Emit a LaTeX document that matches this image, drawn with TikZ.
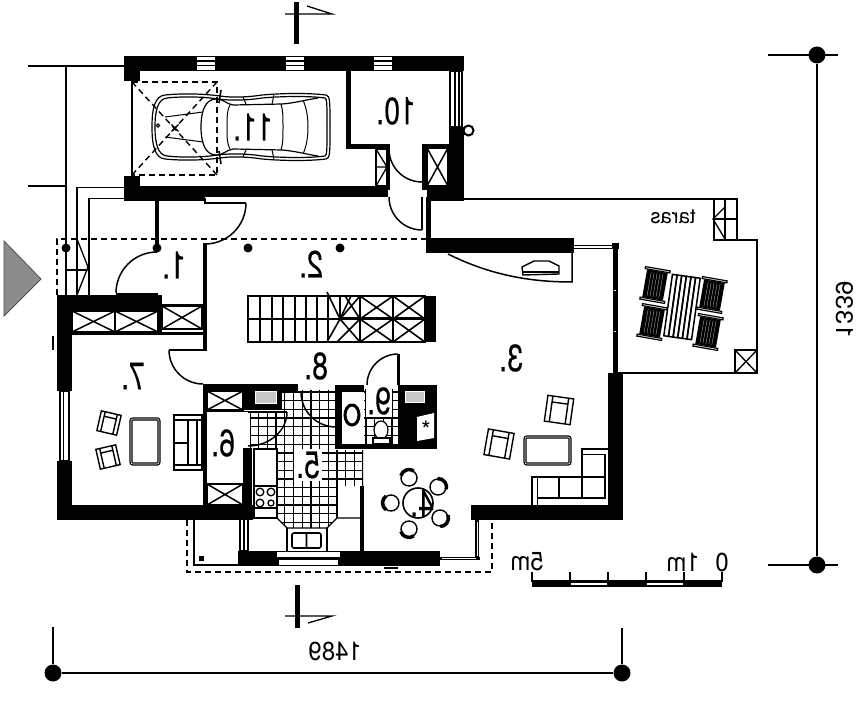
\documentclass[tikz,border=0pt]{standalone}
\usepackage{fontspec}
\setmainfont{TeX Gyre Heros}
\newfontfamily\labelfont[FakeBold=0.4]{TeX Gyre Heros}
\usetikzlibrary{calc}

\tikzset{
  wall/.style={fill=black,draw=none},
  thinline/.style={draw=black,line width=1.3pt},
  leaf/.style={draw=black,line width=2.8pt},
  swing/.style={draw=black,line width=1.5pt},
  dashline/.style={draw=black,line width=1.4pt,dash pattern=on 6pt off 4pt},
  room/.style={font=\labelfont\fontsize{38}{38}\selectfont,xscale=-.75,inner sep=0pt},
  small/.style={font=\fontsize{26}{26}\selectfont,xscale=-.92,inner sep=0pt},
  dimdot/.style={circle,fill=black,inner sep=0pt,minimum size=17pt},
  postdot/.style={circle,fill=black,inner sep=0pt,minimum size=9pt},
}

% hatch box with a cross
\newcommand{\crossbox}[4]{
  \draw[line width=1.5pt,fill=white] (#1,#2) rectangle (#3,#4);
  \draw[line width=1.5pt] (#1,#2) -- (#3,#4) (#1,#4) -- (#3,#2);
}
% armchair
\newcommand{\armchair}[4]{
\begin{scope}[shift={(#1,#2)},rotate=#3,scale=#4]
  \draw[line width=1.4pt,fill=white] (-13,-13) rectangle (13,13);
  \draw[line width=1.4pt] (-8,-13) -- (-8,13) (8,-13) -- (8,13) (-8,-7) -- (8,-7);
\end{scope}
}
% dining chair
\newcommand{\dinechair}[3]{
  \draw[line width=1.4pt,fill=white] (#1,#2) circle (8);
  \draw[line width=3.5pt] ($(#1,#2)+(#3-55:8.5)$) arc (#3-55:#3+55:8.5);
}
% deck chair
\newcommand{\deckchair}[3]{
\begin{scope}[shift={(#1,#2)},rotate=#3]
  \fill[black] (-10.5,-14) rectangle (10.5,14);
  \foreach \s in {-6,-3,0,3,6}
    \draw[white,line width=.2pt] (\s,-12) -- (\s,12);
  \draw[line width=1.2pt,fill=white] (-12.5,-16.5) rectangle (12.5,-14.5);
  \draw[line width=1.2pt,fill=white] (-12.5,14.5) rectangle (12.5,16.5);
\end{scope}
}
% one side of the car
\newcommand{\carhalf}{
  \draw[line width=1.2pt] (152,127) .. controls (152,108) and (155,96) .. (165,95)
    .. controls (185,93) and (205,94) .. (220,96) .. controls (232,98) and (250,97) .. (262,95)
    .. controls (285,93) and (310,93) .. (326,95) .. controls (330,96) and (330,100) .. (330,127);
  \draw[line width=1.2pt] (155,127) .. controls (155,110) and (158,99) .. (167,98)
    .. controls (185,96) and (205,97) .. (218,99) .. controls (232,101) and (250,100) .. (262,98)
    .. controls (285,96) and (310,96) .. (325,98) .. controls (327,99) and (327,103) .. (327,127);
  \draw[line width=1pt] (165,117) -- (203,112);
  \draw[line width=1.2pt] (201,127) .. controls (201,110) and (206,99) .. (216,99)
    .. controls (224,99) and (226,104) .. (233,105) -- (282,104) .. controls (295,103) and (305,100) .. (318,98);
  \draw[line width=1pt] (227,127) .. controls (227,117) and (227,110) .. (230,105);
  \draw[line width=1pt] (283,127) .. controls (283,117) and (283,110) .. (281,104);
  \draw[line width=1pt] (308,127) .. controls (308,115) and (306,107) .. (303,100);
  \draw[line width=1pt] (246,104) -- (243,97) (272,104) -- (274,95);
  \draw[line width=1.6pt] (219,103) -- (221,90);
}

\begin{document}
\begin{tikzpicture}[x=1pt,y=-1pt]
\useasboundingbox (0,0) rectangle (860,703);

% tiles
\begin{scope}
  \clip (280,390) -- (335,390) -- (335,450) -- (363,450) -- (363,486) -- (337,486) -- (337,518)
    -- (327,528) -- (287,528) -- (277,518) -- (277,448) -- (250,448) -- (250,412) -- (280,412) -- cycle;
  \foreach \x in {0,...,14}
    \draw[line width=1.3pt] (250+\x*8.7,385) -- (250+\x*8.7,530);
  \foreach \y in {0,...,17}
    \draw[line width=1.3pt] (245,392+\y*8.7) -- (370,392+\y*8.7);
\end{scope}
\begin{scope}
  \clip (364,390) rectangle (398,444);
  \foreach \x in {0,...,4}
    \draw[line width=1.3pt] (366+\x*8.7,385) -- (366+\x*8.7,445);
  \foreach \y in {0,...,6}
    \draw[line width=1.3pt] (362,392+\y*8.7) -- (400,392+\y*8.7);
\end{scope}

% garage
\fill[wall] (124,56) rectangle (464,71);
\fill[wall] (124,56) rectangle (140,81);
\fill[wall] (124,176) rectangle (140,201);
\fill[wall] (124,186) rectangle (388,197);
\fill[wall] (124,197) rectangle (205,201);
\fill[wall] (346,71) rectangle (351,149);
\fill[wall] (346,144) rectangle (390,149);
\fill[wall] (388,144) rectangle (390,190);
\fill[wall] (449,127) rectangle (464,201);
\fill[wall] (427,186) rectangle (464,201);
\fill[wall] (422,144) rectangle (449,149);
\fill[wall] (422,144) rectangle (427,190);
\crossbox{427}{148}{448}{186}
\draw[line width=1.3pt] (376,149) rectangle (387,186);
\draw[line width=1.3pt] (376,149) -- (387,167) -- (376,186) (376,167) -- (387,167);
\draw[line width=1.3pt] (450,71) rectangle (462,127) (455,71) -- (455,127) (459,71) -- (459,127);
\draw[line width=2pt] (468.5,130.5) circle (5);
\foreach \x in {197,286,374}{
  \fill[white] (\x,57) rectangle (\x+18,70.5);
  \fill[wall] (\x,60.5) rectangle (\x+18,62);
  \fill[wall] (\x,65) rectangle (\x+18,66);
}
\draw[line width=2.8pt] (132,81) -- (132,176);
\carhalf
\begin{scope}[shift={(0,254)},yscale=-1]
  \carhalf
\end{scope}
\draw[dashline] (132,82) rectangle (217,175);
\draw[dashline] (132,82) -- (217,175) (217,82) -- (132,175);
\draw[line width=1pt,fill=white] (158,125.5) circle (1.6);
\draw[line width=1.2pt] (171.5,124.5) -- (178.5,131.5) (178.5,124.5) -- (171.5,131.5);

% outside lines and entrance steps
\draw[thinline] (28,66) -- (124,66) (66,66) -- (66,240) (28,186) -- (66,186);
\draw[thinline] (124,187.5) -- (77,187.5) -- (77,240);
\draw[line width=1.8pt] (124,198.5) -- (89,198.5) -- (89,297);
\draw[dashline] (427,239) -- (57,239) -- (57,297);
\draw[thinline] (66,240) -- (66,296) (77,240) -- (77,296) (66,270) -- (89,270);
\draw[thinline] (77,239) -- (88,267) -- (77,295);
\node[postdot] (post1) at (66,248) {};
\node[postdot] (post2) at (157,248) {};
\node[postdot] (post3) at (248,248) {};
\node[postdot] (post4) at (340,248) {};
\draw[line width=4pt] (157,200) -- (157,245);
\draw[draw=black!70,fill=black!45,line width=.8pt] (4,241) -- (41,279) -- (4,316) -- cycle;

% hall doors
\draw[leaf] (205,198) -- (205,203) -- (246,203);
\draw[swing] (246,203) arc (0:90:41);
\draw[line width=4pt] (205,243) -- (205,350);
\draw[swing] (116,293) arc (180:270:41);
\draw[leaf] (116,294) -- (158,294);
\draw[swing] (389,149) arc (180:90:33);
\draw[swing] (389,197) arc (180:90:33);
\draw[line width=2.8pt] (422,197) -- (422,230);
\draw[line width=4.5pt] (428.5,197) -- (428.5,240);

% living room 7
\fill[wall] (57,295) rectangle (162,311);
\fill[wall] (57,295) rectangle (72,391);
\fill[wall] (57,461) rectangle (72,520);
\fill[wall] (57,505) rectangle (253,520);
\crossbox{72}{311}{115}{332}
\crossbox{115}{311}{158}{332}
\fill[wall] (72,332) rectangle (207,335);
\fill[wall] (158,311) rectangle (162,335);
\crossbox{162}{306}{202}{329}
\draw[line width=2pt] (162,305) -- (205,305);
\draw[thinline] (60,391) rectangle (69,461) (63.5,391) -- (63.5,461);
\draw[line width=2.5pt] (53,336) -- (53,350);
\draw[swing] (169,350) arc (180:90:34);
\draw[leaf] (169,350) -- (207,350);
\draw[line width=4pt] (205,384) -- (205,505);
\draw[line width=1.4pt,fill=white] (174,415) rectangle (202,470);
\draw[line width=1.4pt] (174,420) -- (202,420) (174,465) -- (202,465) (188,420) -- (188,465) (174,443) -- (188,443) (197,420) -- (197,465);
\draw[line width=1.3pt,double,rounded corners=2pt] (131,419) rectangle (159,464);
\armchair{109}{423}{-13}{.78}
\armchair{108}{457}{13}{.78}

% service part
\fill[wall] (203,384) rectangle (298,391);
\crossbox{207}{391}{243}{410}
\fill[wall] (243,385) rectangle (282,410);
\draw[white,line width=1pt,fill=black!22] (255,392) rectangle (276,404);
\draw[line width=1.6pt] (207,411.5) -- (248,411.5);
\fill[wall] (243,448) rectangle (252,520);
\crossbox{207}{484}{243}{505}
\draw[swing] (287,412) arc (0:90:39 and 34);
\draw[leaf] (248,412) -- (287,412);
\draw[swing] (301,392) arc (180:90:35);
\draw[line width=1.4pt] (336,390) -- (336,425);

% kitchen
\draw[thinline] (254,449) rectangle (277,518);
\draw[thinline] (254,486) -- (277,486) (254,508) -- (277,508);
\draw[thinline] (260,492) circle (3.8) (271,492) circle (3.8) (260,503) circle (3.8) (271,503) circle (3) ;
\draw[thinline] (277,518) -- (287,528) -- (327,528) -- (337,518) -- (363,518);
\draw[thinline] (254,518) -- (277,518) (337,486) -- (337,518);
\draw[thinline] (287,528) -- (287,551) (327,528) -- (327,551);
\draw[line width=1.6pt,rounded corners=2pt] (292,533) rectangle (321,548) (306.5,533) -- (306.5,548);
\fill[wall] (360,486) rectangle (364,555);
\fill[wall] (238,551) rectangle (440,566);
\fill[white] (277,552) rectangle (340,556.5);
\fill[white] (279,560) rectangle (338,565);
\draw[thinline] (240,518) rectangle (248,551) (244,518) -- (244,551);
\draw[line width=1.6pt] (384,568) -- (398,568);
\draw[dashline] (187,520) -- (187,572) -- (492,572) -- (492,520);
\draw[thinline] (194,520) -- (194,565) -- (240,565);
\fill[wall] (198.5,555.5) rectangle (203.5,560.5);

% bathroom block
\fill[wall] (335,385) rectangle (364,449);
\fill[wall] (364,444) rectangle (437,449);
\fill[wall] (398,385) rectangle (437,449);
\fill[white] (342,392) rectangle (364,444);
\draw[line width=3pt] (352,415) ellipse (7 and 10);
\draw[white,line width=1pt,fill=black!22] (405,392) rectangle (424,403);
\fill[white] (417,417) -- (434,413) -- (434,438) -- (417,441) -- cycle;
\node[inner sep=0pt,font=\fontsize{24}{24}\selectfont] (stovemark) at (426,430) {*};
\draw[line width=1.2pt,fill=white] (381,430) ellipse (7 and 9);
\draw[line width=1.2pt,fill=white] (373,438) rectangle (390,444);
\draw[swing] (367,385) arc (180:270:31);
\draw[line width=3pt] (398,354) -- (398,385);

% stairs
\draw[line width=1.6pt] (248,296) rectangle (425,342);
\draw[line width=1.6pt] (248,319) -- (340,319);
\draw[line width=3pt] (340,319) -- (425,319);
\foreach \x in {260,272,283,295,306,317,328}
  \draw[line width=1.6pt] (\x,296) -- (\x,342);
\draw[line width=1.6pt] (327,292) -- (340,319) -- (327,342) (340,319) -- (351,296) (340,296) -- (340,319);
\draw[line width=1.6pt] (393,296) -- (393,342) (360,296) -- (360,342);
\draw[line width=1.6pt] (340,319) -- (360,296) (345,296) -- (360,319) (360,296) -- (393,319) (360,319) -- (393,296) (393,296) -- (425,319) (393,319) -- (425,296);
\draw[line width=1.6pt] (340,319) -- (360,342) (337,342) -- (360,319) (360,342) -- (393,319) (360,319) -- (393,342) (393,342) -- (425,319) (393,319) -- (425,342);
\fill[wall] (425,296) rectangle (436,342);

% big room and terrace
\fill[wall] (426,238) rectangle (574,253);
\draw[line width=1.3pt] (574,245.5) -- (613,245.5) (574,248.5) -- (613,248.5);
\fill[wall] (612.5,245) rectangle (617.5,373);
\fill[wall] (612,243) rectangle (619,249);
\fill[wall] (608,373) rectangle (623,520);
\fill[wall] (471,505) rectangle (623,520);
\fill[white] (613.5,290) rectangle (616,291.5);
\fill[white] (613.5,331) rectangle (616,332.5);
\draw[swing] (448,254) .. controls (490,275) and (530,282) .. (572,282) -- (572,253);
\draw[line width=1.4pt,fill=white] (522,267) -- (534,261) -- (549,261) -- (559,266) -- (559,274) -- (523,275) -- cycle;
\draw[line width=2pt] (522,272) -- (559,272);
\draw[line width=3.5pt] (477,520) -- (477,558);
\draw[white,line width=.8pt] (477,522) -- (477,556);
\draw[line width=3pt] (440,558) -- (480,558);
\draw[white,line width=.6pt] (442,558) -- (476,558);
\draw[thinline] (464,199) -- (737,199) -- (737,240) -- (757,240) -- (757,373) -- (617,373);
\draw[thinline] (714,199) -- (714,240) -- (737,240) (725,199) -- (725,240) (714,219) -- (737,219);
\draw[thinline] (725,207) -- (713,219) -- (725,239);
\draw[line width=2.2pt,fill=white] (735,350) rectangle (757,373);
\draw[line width=1.3pt] (735,350) -- (757,373) (735,373) -- (757,350);
\armchair{559}{410}{-8}{1}
\armchair{499}{444}{-10}{1}
\draw[line width=1.3pt,double,rounded corners=2pt] (525,437) rectangle (570,464);
\draw[line width=1.4pt] (532,505) -- (532,477) -- (582,477) -- (582,449) -- (608,449);
\draw[line width=1.4pt] (582,454.5) -- (605,454.5) -- (605,498) -- (537.5,498) -- (537.5,505) (537.5,498) -- (537.5,477);
\draw[line width=1.4pt] (559,477) -- (559,498) (582,477) -- (582,498) (582,477) -- (605,477);
\draw[line width=1.6pt,fill=white] (418,503) circle (15);
\dinechair{409}{478}{-110}
\dinechair{438}{487}{-39}
\dinechair{391}{503}{180}
\dinechair{440}{518}{34}
\dinechair{409}{529}{109}
% terrace table
\begin{scope}[shift={(682,307)},rotate=-8]
  \foreach \s in {-14,-9.3,-4.7,0,4.7,9.3}
    \draw[line width=1.5pt] (\s,-31) rectangle (\s+4.7,31);
\end{scope}
\deckchair{655}{285}{-10}
\deckchair{712}{295}{-10}
\deckchair{652}{322}{-10}
\deckchair{708}{332}{-10}

% section marks
\draw[line width=5pt] (296,2) -- (296,44);
\draw[thinline] (285,14) -- (332,14) -- (307,6);
\draw[line width=5pt] (297,585) -- (297,628);
\draw[thinline] (285,616) -- (332,616) -- (308,623);

% dimensions
\node[dimdot] (dimb1) at (53,673) {};
\node[dimdot] (dimb2) at (622,673) {};
\coordinate (dimb1top) at (53,627);
\coordinate (dimb2top) at (622,628);
\draw[line width=1.8pt] (dimb1) -- (dimb2);
\draw[thinline] (dimb1top) -- (dimb1) (dimb2top) -- (dimb2);
\node[dimdot] (dimr1) at (817,55) {};
\node[dimdot] (dimr2) at (817,565) {};
\coordinate (dimr1a) at (768,55);
\coordinate (dimr1b) at (838,55);
\coordinate (dimr2a) at (768,565);
\coordinate (dimr2b) at (838,565);
\draw[line width=1.8pt] (dimr1) -- (dimr2);
\draw[thinline] (dimr1a) -- (dimr1b) (dimr2a) -- (dimr2b);
\node[small] (width) at (335,651) {1489};
\node[small,rotate=90] (height) at (845,310) {1339};

% scale bar
\fill[wall] (532,580) rectangle (722,587);
\foreach \x in {532,570,608,646,684,722}
  \draw[line width=1.2pt] (\x,572) -- (\x,582);
\fill[white] (571,583) rectangle (607,584.5);
\fill[white] (647,583) rectangle (683,584.5);
\node[small] (scale5) at (527,562) {5m};
\node[small] (scale1) at (683,562) {1m};
\node[small] (scale0) at (722,562) {0};

% labels
\node[room] (lab1) at (174,265) {1.};
\node[room] (lab2) at (311,264) {2.};
\node[room] (lab3) at (511,358) {3.};
\node[room] (lab4) at (422,503) {4.};
\node[room,fill=white,inner sep=3pt] (lab5) at (308,465) {5.};
\node[room] (lab6) at (223,443) {6.};
\node[room] (lab7) at (133,376) {7.};
\node[room] (lab8) at (316,366) {8.};
\node[room,fill=white,inner sep=2pt] (lab9) at (379,401) {9.};
\node[room] (lab10) at (396,111) {10.};
\node[room] (lab11) at (253,127) {11.};
\node[xscale=-1,inner sep=0pt,font=\fontsize{20.5}{20.5}\selectfont] (taras) at (673,217) {taras};
\end{tikzpicture}
\end{document}
